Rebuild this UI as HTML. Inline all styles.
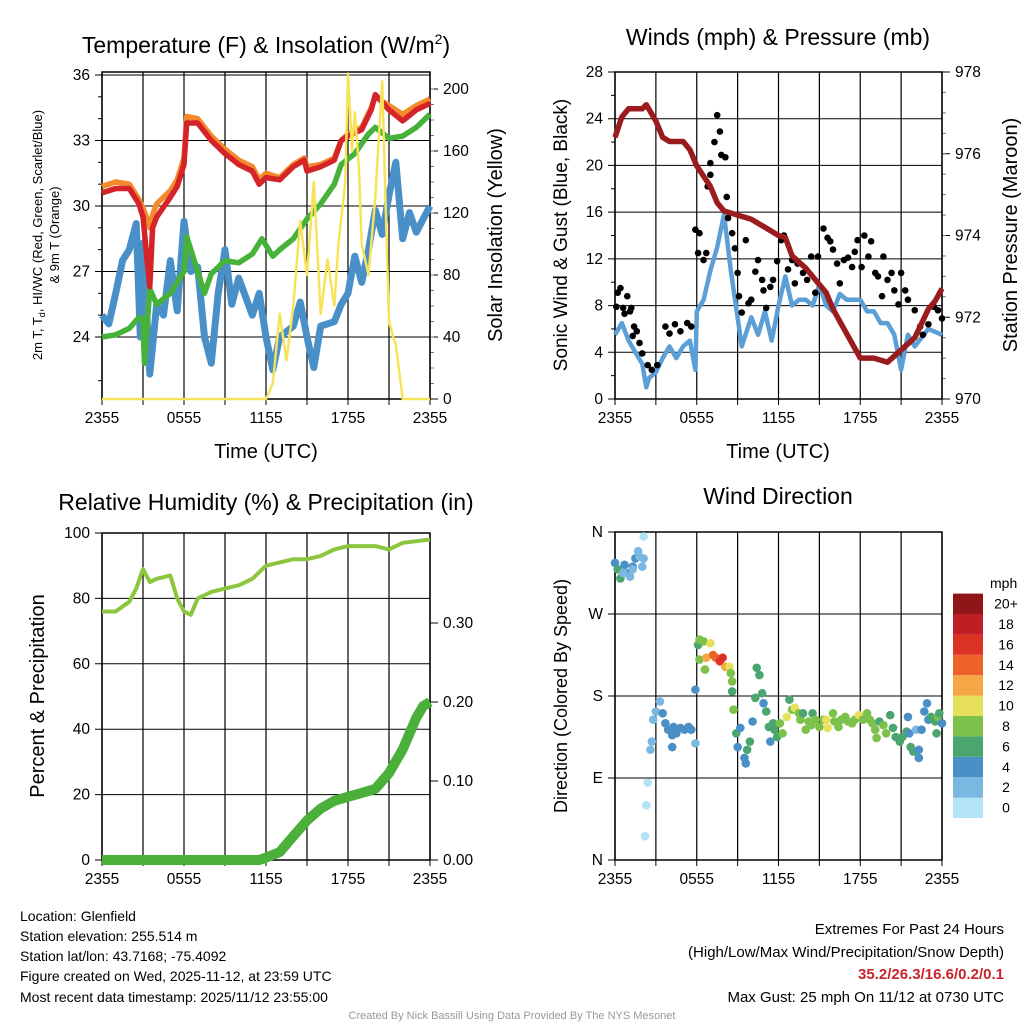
<!DOCTYPE html>
<html><head><meta charset="utf-8"><style>
html,body{margin:0;padding:0;background:#fff}
svg{display:block}
text{font-family:"Liberation Sans",sans-serif;fill:#000}
</style></head><body>
<svg id="svg" width="1024" height="1024" viewBox="0 0 1024 1024" xmlns="http://www.w3.org/2000/svg">
<text x="266" y="53" font-size="23" text-anchor="middle">Temperature (F) &amp; Insolation (W/m<tspan font-size="14" dy="-9">2</tspan><tspan dy="9">)</tspan></text>
<text x="778" y="45" font-size="23" text-anchor="middle">Winds (mph) &amp; Pressure (mb)</text>
<text x="266" y="510" font-size="23" text-anchor="middle">Relative Humidity (%) &amp; Precipitation (in)</text>
<text x="778" y="504" font-size="23" text-anchor="middle">Wind Direction</text>

<text transform="translate(42,235) rotate(-90)" font-size="13" text-anchor="middle">2m T, T<tspan font-size="9" dy="3">d</tspan><tspan dy="-3">, HI/WC (Red, Green, Scarlet/Blue)</tspan></text>
<text transform="translate(59,235) rotate(-90)" font-size="13" text-anchor="middle">&amp; 9m T (Orange)</text>
<text transform="translate(502,235) rotate(-90)" font-size="20" text-anchor="middle">Solar Insolation (Yellow)</text>
<text x="266" y="458" font-size="20" text-anchor="middle">Time (UTC)</text>
<text transform="translate(567,235) rotate(-90)" font-size="19" text-anchor="middle">Sonic Wind &amp; Gust (Blue, Black)</text>
<text transform="translate(1017,235) rotate(-90)" font-size="20" text-anchor="middle">Station Pressure (Maroon)</text>
<text x="778" y="458" font-size="20" text-anchor="middle">Time (UTC)</text>
<text transform="translate(44,696) rotate(-90)" font-size="20" text-anchor="middle">Percent &amp; Precipitation</text>
<text transform="translate(567,696) rotate(-90)" font-size="18" text-anchor="middle">Direction (Colored By Speed)</text>

<g font-size="14">
<text x="20" y="921">Location: Glenfield</text>
<text x="20" y="941">Station elevation: 255.514 m</text>
<text x="20" y="961">Station lat/lon: 43.7168; -75.4092</text>
<text x="20" y="981">Figure created on Wed, 2025-11-12, at 23:59 UTC</text>
<text x="20" y="1002">Most recent data timestamp: 2025/11/12 23:55:00</text>
</g>
<g font-size="15" text-anchor="end">
<text x="1004" y="934">Extremes For Past 24 Hours</text>
<text x="1004" y="957">(High/Low/Max Wind/Precipitation/Snow Depth)</text>
<text x="1004" y="979" font-weight="bold" style="fill:#c8242b">35.2/26.3/16.6/0.2/0.1</text>
<text x="1004" y="1002">Max Gust: 25 mph On 11/12 at 0730 UTC</text>
</g>
<text x="512" y="1019" font-size="11" text-anchor="middle" style="fill:#999">Created By Nick Bassill Using Data Provided By The NYS Mesonet</text>
<g id="plots"></g>
</svg>
<script>
// ---- time ----
const xTickLabels=["2355","0555","1155","1755","2355"];
// ---- temperature panel (hours since 2355) ----
const redH=[0,1,2,2.7,3,3.3,3.5,3.7,4,5,5.5,6,6.2,7,8,9,10,11,11.5,12,13,14,14.8,15,16,17,17.5,18,19,19.7,20,21,22,23,24];
const redT=[30.6,30.8,30.8,30.1,29.5,27.5,26.3,29.0,29.5,30.4,30.9,31.9,33.8,33.8,33.0,32.4,31.9,31.6,31.0,31.3,31.2,31.8,32.1,31.6,31.8,32.1,33.0,33.2,33.5,34.4,35.1,34.4,33.9,34.4,34.7];
const orangeT=[30.9,31.1,31.0,30.3,29.9,29.4,29.0,29.6,30.1,30.7,31.2,32.2,34.1,34.0,33.2,32.6,32.1,31.8,31.2,31.5,31.3,31.9,32.2,31.8,31.9,32.2,33.0,33.3,33.6,34.5,35.0,34.6,34.2,34.6,34.9];
const greenH=[0,1,2,2.7,3,3.1,3.5,4,5,6,6.2,7,7.5,8,9,10,11,11.7,12.5,13,14,15,16,17,17.5,18.5,19.5,20,21,22,23,24];
const greenT=[24.0,24.1,24.4,24.9,24.8,22.8,26.2,25.5,26.0,27.0,28.6,27.0,26.0,26.9,27.5,27.4,27.8,28.5,27.7,28.0,28.5,29.4,30.1,31.0,31.9,32.4,33.3,33.6,33.1,33.2,33.6,34.2];
const blueH=[0,0.5,1,1.5,2,2.5,2.8,3,3.5,4,4.5,5,5.5,6,6.5,7,7.5,8,8.5,9,9.5,10,11,11.5,12,12.5,13,14,14.5,15,15.5,16,17,17.5,18,18.5,19,19.5,20,20.5,21,21.5,22,22.5,23,24];
const blueT=[25.0,24.6,26.0,27.5,28.0,29.2,24.0,28.3,22.3,25.5,25.0,27.5,25.2,29.3,27.0,27.2,24.0,22.8,26.0,28.0,25.5,26.7,25.0,26.0,24.0,22.5,24.0,24.5,25.6,24.0,22.6,24.5,24.7,25.5,26.0,27.7,26.5,28.0,29.8,28.7,30.5,32.0,28.5,29.7,28.8,30.0];
const solH=[0,12,12.5,13,13.5,14,14.5,15,15.5,16,16.5,17,17.3,17.8,18,18.3,18.5,18.8,19,19.5,20,20.5,20.8,21,21.3,21.5,22,24];
const solW=[0,0,10,55,25,60,115,80,140,55,90,60,100,140,210,160,185,150,100,80,130,205,110,50,40,35,0,0];
// ---- wind panel ----
const windH=[0,0.5,1,1.5,2,2.3,2.5,3,3.5,4,4.5,5,5.5,5.9,6,6.5,7,7.5,8,8.5,9,9.3,10,10.5,11,11.5,12,12.5,13,13.5,14,14.5,15,15.5,16,16.5,17,18,18.5,19,19.5,20,20.5,21,21.5,22,23,24];
const windV=[5.5,6.5,5.0,4.0,3.0,1.0,1.8,2.3,3.5,4.5,3.5,4.5,5.0,2.5,7.5,8.5,11,13,15.8,11,7,4.5,7,5.5,7.5,5,8,10.5,8,8.5,8.5,8,9.8,8,7.5,9,8.5,8.5,7.5,7.5,6.5,6.5,5.5,2.5,5.5,4.5,6,5.5];
const gustH=[0.1,0.2,0.4,0.6,0.9,0.7,1.1,1.2,1.4,1.6,1.3,1.8,2.0,2.4,2.7,3.1,3.7,4.0,4.4,4.8,5.3,5.6,5.9,6.1,6.2,6.5,6.7,6.8,7.0,7.0,7.3,7.5,7.7,7.8,8.1,8.2,8.3,8.6,8.8,9.0,9.1,9.3,9.6,9.8,10.0,10.3,10.5,10.8,10.9,11.1,11.4,11.6,11.9,12.2,12.4,12.7,13.0,13.2,13.4,13.8,14.1,14.4,14.7,14.9,15.3,15.6,15.8,16.0,16.3,16.5,16.8,17.1,17.4,17.6,17.8,18.1,18.3,18.6,18.8,19.1,19.3,19.6,19.7,20.0,20.3,20.5,20.8,21.0,21.3,21.5,22.0,22.4,22.6,23.0,23.4,23.7,24.0];
const gustV=[7.9,9.1,9.5,7.8,8.8,7.3,7.5,7.8,6.2,5.8,5.4,4.8,3.9,2.9,2.5,2.9,6.2,5.6,6.4,5.8,6.5,6.2,14.5,12.5,14.2,11.9,12.5,18.2,20.2,19.2,22.0,24.3,22.9,20.9,20.7,17.3,15.5,14.2,12.9,10.8,8.8,7.4,13.6,8.2,8.5,10.9,11.9,10.2,9.3,7.8,9.6,10.2,11.8,13.6,14.0,11.1,11.9,9.9,11.6,10.8,10.2,12.2,9.1,12.2,14.6,13.8,13.5,12.8,11.6,9.9,11.9,12.1,11.3,12.6,13.6,11.3,14.0,12.2,13.5,10.8,10.5,8.8,12.2,10.2,10.8,9.3,8.1,10.8,9.3,8.5,7.6,6.2,5.5,6.4,7.9,7.6,6.9];
const presH=[0,0.5,1,2,2.3,3,3.5,4,5,5.5,6,7,7.5,8,9,10,11,12,12.5,13,14,15,15.5,16,17,18,19,20,21,22,23,23.5,24];
const presMb=[976.4,976.9,977.1,977.1,977.2,976.8,976.4,976.3,976.3,976.1,975.7,975.2,974.8,974.6,974.5,974.4,974.2,974.0,973.95,973.5,973.2,972.8,972.6,972.2,971.6,971.0,971.0,970.9,971.2,971.5,972.2,972.4,972.7];
// ---- humidity panel ----
const rhH=[0,1,2,2.5,3,3.5,4,5,5.5,6,6.5,7,8,9,10,11,12,13,14,15,16,17,18,19,20,21,22,23,24];
const rhPct=[76,76,79,83,89,85,86,87,80,76,75,80,82,83,84,86,90,91,92,92,93,95,96,96,96,95,97,97.5,98];
const prH=[0,11.5,12,13,14,15,16,17,18,19,20,21,22,23,23.5,24];
const prIn=[0,0,0.003,0.01,0.03,0.05,0.065,0.075,0.08,0.085,0.09,0.11,0.14,0.18,0.195,0.2];
// ---- wind direction panel ----
const dirH=[0,0.2,0.4,0.7,0.9,1.1,1.3,1.5,1.7,1.8,2.0,2.1,2.1,1.3,0.6,2.6,2.4,2.3,2.2,2.7,2.8,3.0,3.3,3.5,3.7,3.9,4.2,4.3,4.2,4.5,4.8,5.1,5.4,5.6,5.9,5.9,6.1,6.2,6.5,6.2,6.6,6.7,7.0,7.2,7.4,7.7,7.9,8.1,8.4,8.5,8.6,8.6,8.7,8.9,9.0,9.2,9.5,9.6,9.7,9.9,10.1,10.3,10.4,10.6,10.8,10.9,11.1,11.3,11.4,11.6,11.7,11.9,12.1,12.3,12.6,12.8,13.0,13.2,13.5,13.6,13.8,14.0,14.2,14.4,14.5,14.7,15.0,15.3,15.5,15.6,16.0,16.1,16.4,16.6,16.9,17.1,17.4,17.6,17.9,18.2,18.5,18.7,18.9,19.1,19.2,19.4,19.7,19.9,20.2,20.4,20.6,20.9,21.1,21.4,21.5,21.6,21.7,21.9,22.3,22.3,22.1,22.5,22.7,22.9,23.0,23.2,23.5,23.6,23.7,23.8,24.0];
const dirDeg=[326,319,309,324,315,311,322,331,339,333,322,355,331,319,315,121,85,60,26,130,154,163,174,161,150,143,137,146,124,139,145,143,146,143,128,187,236,242,240,220,209,222,238,225,222,218,222,212,212,205,196,185,165,139,124,145,112,106,121,130,152,178,211,203,183,172,163,146,130,150,143,135,150,139,157,176,165,167,161,154,161,143,152,148,161,154,146,154,154,145,161,152,146,154,157,152,150,154,159,154,161,154,150,143,134,152,148,139,159,145,135,130,135,141,157,139,124,119,121,112,143,143,163,172,154,157,152,139,157,161,150];
const dirSpd=[4,6,6,4,4,3,4,4,3,2,2,1,2,3,3,2,1,1,1,2,3,3,2,4,4,4,4,4,4,4,4,4,4,4,3,5,7,8,8,8,8,12,10,14,15,17,17,12,10,8,8,6,8,6,4,5,4,4,6,6,4,6,7,6,6,4,6,6,4,6,6,6,8,8,10,6,8,10,8,8,6,8,8,8,6,8,8,8,10,10,8,8,8,8,8,8,8,8,10,8,8,8,8,8,8,6,8,8,6,6,6,6,6,6,4,4,6,6,4,4,2,4,4,4,4,6,6,6,8,6,4];
const binColors=["#b3e3f7","#7ab8e2","#4a8fc6","#4aa56e","#7cc24a","#e6e05a","#f5a745","#ee6128","#dc3226","#be1e24","#8f1518"];
const binLabels=["0","2","4","6","8","10","12","14","16","18","20+"];

const NS="http://www.w3.org/2000/svg";
const root=document.getElementById('plots');
function el(tag,attrs,parent){const e=document.createElementNS(NS,tag);for(const k in attrs)e.setAttribute(k,attrs[k]);(parent||root).appendChild(e);return e;}
function txt(s,attrs,parent){const e=el('text',attrs,parent);e.textContent=s;return e;}
function lin(x0,x1,v0,v1,p0,p1){return v=>p0+(v-v0)*(p1-p0)/(v1-v0);}
function pathD(xs,ys,fx,fy){return xs.map((h,i)=>(i?'L':'M')+fx(h).toFixed(1)+','+fy(ys[i]).toFixed(1)).join('');}

function frame(g,L,R,T,B,fx,hTicks,leftTicks,fyL,leftFmt,rightTicks,fyR,rightFmt,minorL,minorR){
  for(let h=0;h<=24;h+=3){const x=fx(h);
    const v=el('line',{x1:x,x2:x,y1:T,y2:B,stroke:'#000','stroke-width':1.2},g);
    
    
    el('line',{x1:x,x2:x,y1:B,y2:B+6,stroke:'#000','stroke-width':1},g);}
  hTicks.forEach((s,i)=>{const t=txt(s,{x:fx(i*6),y:B+24,'font-size':15.5,'text-anchor':'middle'},g);
    
    });
  leftTicks.forEach(v=>{const y=fyL(v);
    el('line',{x1:L-7,x2:R,y1:y,y2:y,stroke:'#000','stroke-width':1},g);
    const t=txt(leftFmt(v),{x:L-12,y:y+5,'font-size':15.5,'text-anchor':'end'},g);
    
    });
  (minorL||[]).forEach(v=>{const y=fyL(v);el('line',{x1:L-4,x2:L,y1:y,y2:y,stroke:'#000','stroke-width':1},g);});
  if(rightTicks){rightTicks.forEach(v=>{const y=fyR(v);
    el('line',{x1:R,x2:R+8,y1:y,y2:y,stroke:'#000','stroke-width':1},g);
    const t=txt(rightFmt(v),{x:R+13,y:y+5,'font-size':15.5},g);
    
    });
    (minorR||[]).forEach(v=>{const y=fyR(v);el('line',{x1:R,x2:R+4,y1:y,y2:y,stroke:'#777','stroke-width':1},g);});}
  el('rect',{x:L,y:T,width:R-L,height:B-T,fill:'none',stroke:'#000','stroke-width':1.5},g);
}
function range(a,b,s){const r=[];for(let v=a;v<=b+1e-9;v+=s)r.push(+v.toFixed(3));return r;}

// ===== Panel 1: temperature =====
(function(){
  const g=el('g',{});
  
  
  const L=102,R=430,T=72,B=399;
  const fx=lin(0,24,0,24,L,R);
  const fy=lin(0,0,24,36,337,75);
  const fyR=lin(0,0,0,200,399,89);
  frame(g,L,R,T,B,fx,xTickLabels,[24,27,30,33,36],fy,v=>String(v),[0,40,80,120,160,200],fyR,v=>String(v),[22,25,26,28,29,31,32,34,35],range(10,200,10));
  const series=[['wind-chill-line',blueH,blueT,'#4a90c8',7],['dewpoint-line',greenH,greenT,'#46b23a',5.5],['temp-9m-line',redH,orangeT,'#f58a2c',5.5],['temp-2m-line',redH,redT,'#d4242a',5.5]];
  series.forEach(s=>{const p=el('path',{d:pathD(s[1],s[2],fx,fy),fill:'none',stroke:s[3],'stroke-width':s[4],'stroke-linejoin':'round'},g);
    
    });
  const p=el('path',{d:pathD(solH,solW,fx,fyR),fill:'none',stroke:'#f7e35a','stroke-width':2.5,'stroke-linejoin':'round'},g);
  
  
})();

// ===== Panel 2: winds =====
(function(){
  const g=el('g',{});
  
  
  const L=615,R=942,T=72,B=399;
  const fx=lin(0,24,0,24,L,R);
  const fy=lin(0,0,0,28,399,72);
  const fyR=lin(0,0,970,978,399,72);
  frame(g,L,R,T,B,fx,xTickLabels,range(0,28,4),fy,v=>String(v),range(970,978,2),fyR,v=>String(v),range(2,26,4),range(970.5,977.5,0.5));
  const wl=el('path',{d:pathD(windH,windV,fx,fy),fill:'none',stroke:'#5b9fd6','stroke-width':4.5,'stroke-linejoin':'round'},g);
  
  
  gustH.forEach((h,i)=>{const c=el('circle',{cx:fx(h),cy:fy(gustV[i]),r:3.3,fill:'#000'},g);
    
    });
  const pl=el('path',{d:pathD(presH,presMb,fx,fyR),fill:'none',stroke:'#9b1c1f','stroke-width':5.5,'stroke-linejoin':'round'},g);
  
  
})();

// ===== Panel 3: humidity =====
(function(){
  const g=el('g',{});
  
  
  const L=102,R=430,T=533,B=860;
  const fx=lin(0,24,0,24,L,R);
  const fy=lin(0,0,0,100,860,533);
  const fyR=lin(0,0,0,0.1,860,781);
  frame(g,L,R,T,B,fx,xTickLabels,range(0,100,20),fy,v=>String(v),[0,0.1,0.2,0.3],fyR,v=>v.toFixed(2),[],[]);
  const rl=el('path',{d:pathD(rhH,rhPct,fx,fy),fill:'none',stroke:'#8cc63f','stroke-width':4,'stroke-linejoin':'round'},g);
  
  
  const pl=el('path',{d:pathD(prH,prIn,fx,fyR),fill:'none',stroke:'#4ab03a','stroke-width':10,'stroke-linejoin':'round'},g);
  
  
})();

// ===== Panel 4: direction =====
(function(){
  const g=el('g',{});
  
  
  const L=615,R=942,T=532,B=860;
  const fx=lin(0,24,0,24,L,R);
  const fy=lin(0,0,0,360,860,532);
  const names=['N','E','S','W','N'];
  frame(g,L,R,T,B,fx,xTickLabels,[0,90,180,270,360],fy,v=>names[v/90],null);
  dirH.forEach((h,i)=>{const b=Math.min(10,Math.floor(dirSpd[i]/2));
    const c=el('circle',{cx:fx(h),cy:fy(dirDeg[i]),r:4.3,fill:binColors[b]},g);
    
    });
  const lg=el('g',{},g);
  
  
  txt('mph',{x:990,y:588,'font-size':14},lg);
  binColors.forEach((c,i)=>{const y=818-(i+1)*20.4;
    el('rect',{x:953,y:y,width:30,height:20.4,fill:c},lg);
    txt(binLabels[i],{x:1006,y:y+15,'font-size':14,'text-anchor':'middle'},lg);});
})();
</script>
</body></html>
